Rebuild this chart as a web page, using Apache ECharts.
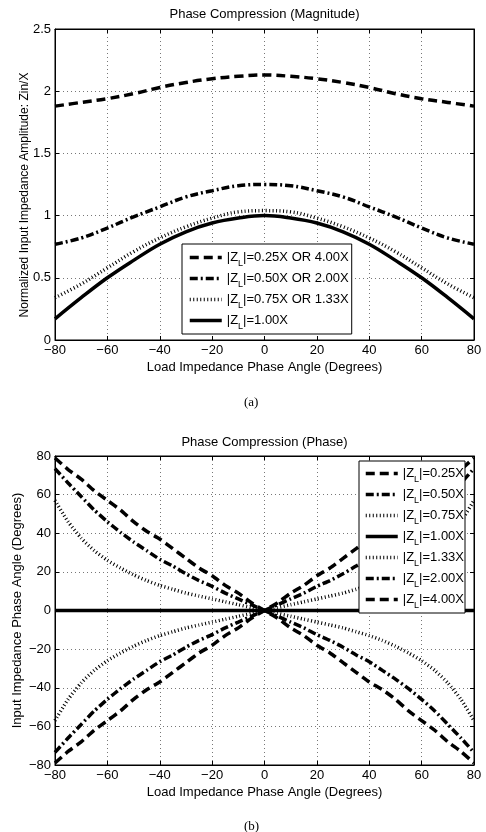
<!DOCTYPE html>
<html>
<head>
<meta charset="utf-8">
<script src="https://cdn.jsdelivr.net/npm/echarts@6/dist/echarts.min.js"></script>
<style>
  html, body { margin: 0; padding: 0; background: #fff; }
  #chart { width: 486px; height: 832px; }
</style>
</head>
<body>
<div id="chart"></div>
<script>
// (a) magnitude, read every 10 degrees
const magAngles = [-80, -70, -60, -50, -40, -30, -20, -10, 0, 10, 20, 30, 40, 50, 60, 70, 80];
const mag025 = [1.88, 1.91, 1.94, 1.98, 2.03, 2.07, 2.10, 2.12, 2.13, 2.12, 2.10, 2.07, 2.03, 1.98, 1.94, 1.91, 1.88];
const mag050 = [0.77, 0.82, 0.90, 0.99, 1.07, 1.15, 1.20, 1.24, 1.25, 1.24, 1.20, 1.15, 1.07, 0.99, 0.90, 0.82, 0.77];
const mag075 = [0.34, 0.45, 0.58, 0.71, 0.82, 0.91, 0.98, 1.03, 1.04, 1.03, 0.98, 0.91, 0.82, 0.71, 0.58, 0.45, 0.34];
const mag100 = [0.17, 0.34, 0.50, 0.64, 0.77, 0.87, 0.94, 0.98, 1.00, 0.98, 0.94, 0.87, 0.77, 0.64, 0.50, 0.34, 0.17];
const magNames = ['0.25X OR 4.00X', '0.50X OR 2.00X', '0.75X OR 1.33X', '1.00X'];

// (b) phase, read every 5 degrees
const phAngles = [-80, -75, -70, -65, -60, -55, -50, -45, -40, -35, -30, -25, -20, -15, -10, -5, 0,
  5, 10, 15, 20, 25, 30, 35, 40, 45, 50, 55, 60, 65, 70, 75, 80];
const ph025 = [79, 73, 68, 62, 57, 52, 46, 41, 37, 32, 27, 22, 18, 13, 9, 4, 0,
  -4, -9, -13, -18, -22, -27, -32, -37, -41, -46, -52, -57, -62, -68, -73, -79];
const ph050 = [73.5, 66, 59, 52, 46, 40.5, 35.5, 31, 26.5, 23, 19, 15.5, 12.5, 9, 6, 3, 0,
  -3, -6, -9, -12.5, -15.5, -19, -23, -26.5, -31, -35.5, -40.5, -46, -52, -59, -66, -73.5];
const ph075 = [57, 46, 37.5, 31, 26, 22, 18.5, 15.5, 13, 11, 9, 7.5, 6, 4.5, 3, 1.5, 0,
  -1.5, -3, -4.5, -6, -7.5, -9, -11, -13, -15.5, -18.5, -22, -26, -31, -37.5, -46, -57];
const ph100 = [0, 0, 0, 0, 0, 0, 0, 0, 0, 0, 0, 0, 0, 0, 0, 0, 0,
  0, 0, 0, 0, 0, 0, 0, 0, 0, 0, 0, 0, 0, 0, 0, 0];
const ph133 = [-57, -46, -37.5, -31, -26, -22, -18.5, -15.5, -13, -11, -9, -7.5, -6, -4.5, -3, -1.5, 0,
  1.5, 3, 4.5, 6, 7.5, 9, 11, 13, 15.5, 18.5, 22, 26, 31, 37.5, 46, 57];
const ph200 = [-73.5, -66, -59, -52, -46, -40.5, -35.5, -31, -26.5, -23, -19, -15.5, -12.5, -9, -6, -3, 0,
  3, 6, 9, 12.5, 15.5, 19, 23, 26.5, 31, 35.5, 40.5, 46, 52, 59, 66, 73.5];
const ph400 = [-79, -73, -68, -62, -57, -52, -46, -41, -37, -32, -27, -22, -18, -13, -9, -4, 0,
  4, 9, 13, 18, 22, 27, 32, 37, 41, 46, 52, 57, 62, 68, 73, 79];
const phNames = ['0.25X', '0.50X', '0.75X', '1.00X', '1.33X', '2.00X', '4.00X'];

const FONT = '"Liberation Sans", Arial, sans-serif';
const DASH = [9, 5];
const DASHDOT = [8, 3, 2, 3];
const DOT = [1, 2.5];

const pairs = (xs, ys) => xs.map((x, i) => [x, ys[i]]);
const minus = v => String(v).replace('-', '\u2212');

function line(name, xs, ys, dash, gridIdx) {
  return {
    name: name,
    type: 'line',
    xAxisIndex: gridIdx * 2,
    yAxisIndex: gridIdx * 2,
    data: pairs(xs, ys),
    symbol: 'none',
    smooth: gridIdx === 0 ? 0.4 : 0.2,
    lineStyle: { color: '#000', width: 3.5, type: dash, cap: 'butt' },
    itemStyle: { color: '#000' },
    z: 3
  };
}

function xAxes(gridIdx, withName) {
  return [{
    type: 'value', gridIndex: gridIdx, position: 'bottom',
    min: -80, max: 80, interval: 20,
    axisLine: { onZero: false, lineStyle: { color: '#000', width: 1 } },
    axisTick: { inside: true, length: 4, lineStyle: { color: '#000' } },
    axisLabel: { color: '#000', fontSize: 13, fontFamily: FONT, margin: 4, formatter: minus },
    splitLine: { show: true, lineStyle: { color: '#777', type: [1, 3], width: 1 } },
    name: withName, nameLocation: 'middle', nameGap: 21,
    nameTextStyle: { color: '#000', fontSize: 13, fontFamily: FONT }
  }, {
    type: 'value', gridIndex: gridIdx, position: 'top',
    min: -80, max: 80, interval: 20,
    axisLine: { onZero: false, lineStyle: { color: '#000', width: 1 } },
    axisTick: { inside: true, length: 4, lineStyle: { color: '#000' } },
    axisLabel: { show: false }, splitLine: { show: false }
  }];
}

function yAxes(gridIdx, min, max, interval, name, gap, nameSize, namePad) {
  return [{
    type: 'value', gridIndex: gridIdx, position: 'left',
    min: min, max: max, interval: interval,
    axisLine: { show: true, onZero: false, lineStyle: { color: '#000', width: 1 } },
    axisTick: { show: true, inside: true, length: 4, lineStyle: { color: '#000' } },
    axisLabel: { color: '#000', fontSize: 13, fontFamily: FONT, margin: 4, formatter: minus },
    splitLine: { show: true, lineStyle: { color: '#777', type: [1, 3], width: 1 } },
    name: name, nameLocation: 'middle', nameGap: gap, nameMoveOverlap: false,
    nameTextStyle: { color: '#000', fontSize: nameSize, fontFamily: FONT, padding: namePad }
  }, {
    type: 'value', gridIndex: gridIdx, position: 'right',
    min: min, max: max, interval: interval,
    axisLine: { show: true, onZero: false, lineStyle: { color: '#000', width: 1 } },
    axisTick: { show: true, inside: true, length: 4, lineStyle: { color: '#000' } },
    axisLabel: { show: false }, splitLine: { show: false }
  }];
}

const legendText = {
  color: '#000', fontSize: 13, fontFamily: FONT, lineHeight: 21,
  rich: { s: { fontSize: 9, fontFamily: FONT, lineHeight: 12, verticalAlign: 'bottom', color: '#000' } }
};
const noSymbol = { color: 'rgba(0,0,0,0)', borderColor: 'rgba(0,0,0,0)', borderWidth: 0, opacity: 0 };

const chart = echarts.init(document.getElementById('chart'), null, { renderer: 'canvas' });

const option = {
  backgroundColor: '#fff',
  animation: false,
  title: [
    { text: 'Phase Compression (Magnitude)', left: 264.5, top: 8, textAlign: 'center', padding: 0,
      textStyle: { color: '#000', fontSize: 13, fontWeight: 'normal', fontFamily: FONT } },
    { text: 'Phase Compression (Phase)', left: 264.5, top: 436, textAlign: 'center', padding: 0,
      textStyle: { color: '#000', fontSize: 13, fontWeight: 'normal', fontFamily: FONT } }
  ],
  grid: [
    { left: 55, top: 29, width: 419, height: 311, show: true, borderColor: '#000', borderWidth: 1, backgroundColor: '#fff' },
    { left: 55, top: 456, width: 419, height: 309, show: true, borderColor: '#000', borderWidth: 1, backgroundColor: '#fff' }
  ],
  xAxis: [].concat(
    xAxes(0, 'Load Impedance Phase Angle (Degrees)'),
    xAxes(1, 'Load Impedance Phase Angle (Degrees)')
  ),
  yAxis: [].concat(
    yAxes(0, 0, 2.5, 0.5, 'Normalized Input Impedance Amplitude: Zin/X', 24, 12, [0, 21, 0, 0]),
    yAxes(1, -80, 80, 20, 'Input Impedance Phase Angle (Degrees)', 31, 13, 0)
  ),
  legend: [
    {
      data: magNames, orient: 'vertical', left: 182, top: 244,
      padding: [3, 3, 3, 6], itemGap: 0, itemWidth: 32, itemHeight: 14,
      backgroundColor: '#fff', borderColor: '#000', borderWidth: 1, borderRadius: 0,
      lineStyle: { width: 3.5 },
      itemStyle: noSymbol,
      textStyle: legendText,
      formatter: n => '|Z{s|L}|=' + n
    },
    {
      data: phNames, orient: 'vertical', left: 359, top: 461,
      padding: [2, 1, 3, 5], itemGap: 0, itemWidth: 32, itemHeight: 14,
      backgroundColor: '#fff', borderColor: '#000', borderWidth: 1, borderRadius: 0,
      lineStyle: { width: 3.5 },
      itemStyle: noSymbol,
      textStyle: legendText,
      formatter: n => '|Z{s|L}|=' + n
    }
  ],
  graphic: [
    { type: 'text', left: 244, top: 396, style: { text: '(a)', fontSize: 13, fontFamily: '"Liberation Serif", serif', fill: '#000' } },
    { type: 'text', left: 244, top: 820, style: { text: '(b)', fontSize: 13, fontFamily: '"Liberation Serif", serif', fill: '#000' } }
  ],
  series: [
    line(magNames[0], magAngles, mag025, DASH, 0),
    line(magNames[1], magAngles, mag050, DASHDOT, 0),
    line(magNames[2], magAngles, mag075, DOT, 0),
    line(magNames[3], magAngles, mag100, 'solid', 0),
    line(phNames[0], phAngles, ph025, DASH, 1),
    line(phNames[1], phAngles, ph050, DASHDOT, 1),
    line(phNames[2], phAngles, ph075, DOT, 1),
    line(phNames[3], phAngles, ph100, 'solid', 1),
    line(phNames[4], phAngles, ph133, DOT, 1),
    line(phNames[5], phAngles, ph200, DASHDOT, 1),
    line(phNames[6], phAngles, ph400, DASH, 1)
  ]
};

chart.setOption(option);
</script>
</body>
</html>
